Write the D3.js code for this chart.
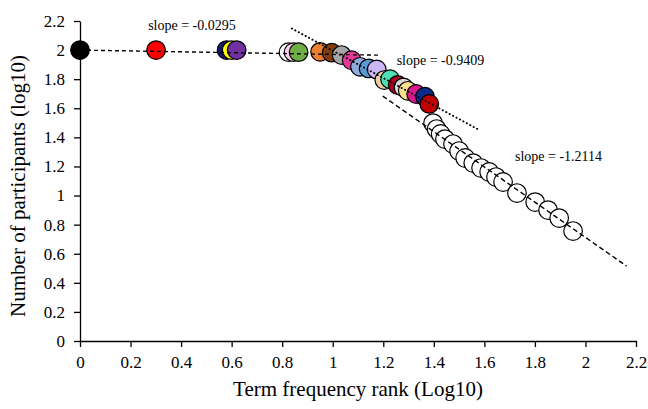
<!DOCTYPE html>
<html>
<head>
<meta charset="utf-8">
<script src="https://cdn.jsdelivr.net/npm/d3@7"></script>
<style>
  body { margin: 0; background: #fff; }
  text { font-family: "Liberation Serif", "Times New Roman", serif; fill: #000; }
</style>
</head>
<body>
<div id="grafico"></div>
<script>
// valores (log10 rango, log10 participantes)
const rangoLog = [
    0, 0.301, 0.58, 0.60, 0.62, 0.825, 0.845, 0.865, 0.95, 0.996,
    1.035, 1.075, 1.108, 1.142, 1.174, 1.204, 1.227, 1.257, 1.28, 1.297,
    1.33, 1.365, 1.382,
    1.397, 1.411, 1.427, 1.444, 1.476, 1.500, 1.524, 1.556, 1.587, 1.619,
    1.646, 1.674, 1.729, 1.801, 1.852, 1.896, 1.951
];
const participantesLog = [
    2.0, 2.0, 2.0, 2.0, 2.0, 1.986, 1.986, 1.986, 1.988, 1.982,
    1.966, 1.93, 1.885, 1.874, 1.867, 1.794, 1.80, 1.76, 1.744, 1.72,
    1.698, 1.68, 1.63,
    1.498, 1.457, 1.423, 1.388, 1.354, 1.306, 1.258, 1.223, 1.189, 1.162,
    1.127, 1.093, 1.017, 0.955, 0.900, 0.845, 0.756
];
const colores = [
    "#000000", "#ff0000", "#13196e", "#ffff00", "#7030a0", "#ffffff", "#ffccf2", "#70ad47", "#ed7d31", "#843c0c",
    "#a5a5a5", "#e8379a", "#8faadc", "#5b9bd5", "#cdb8f5", "#e9cfa5", "#4fe0b5", "#a50021", "#d9d9d9", "#ffe08a",
    "#d9188c", "#0a2a8c", "#c00000",
    "#ffffff", "#ffffff", "#ffffff", "#ffffff", "#ffffff", "#ffffff", "#ffffff", "#ffffff", "#ffffff", "#ffffff",
    "#ffffff", "#ffffff", "#ffffff", "#ffffff", "#ffffff", "#ffffff", "#ffffff"
];

// rectas de ajuste
const pendientes = [-0.0295, -0.9409, -1.2114];
const intercepciones = [2.0, 2.937, 3.135];
const desde = [0, 0.838, 1.198];
const hasta = [1.19, 1.575, 2.163];
const etiquetasPendiente = ["slope = -0.0295", "slope = -0.9409", "slope = -1.2114"];

const ticksX = [0, 0.2, 0.4, 0.6, 0.8, 1, 1.2, 1.4, 1.6, 1.8, 2, 2.2];
const ticksY = [0, 0.2, 0.4, 0.6, 0.8, 1, 1.2, 1.4, 1.6, 1.8, 2, 2.2];

const svgWidth = 648, svgHeight = 409;
const margin = { top: 21, right: 12, bottom: 68, left: 80 };
const width = svgWidth - margin.left - margin.right;
const height = svgHeight - margin.top - margin.bottom;

const svg = d3.select("#grafico")
    .append("svg")
    .attr("width", svgWidth)
    .attr("height", svgHeight)
    .append("g")
    .attr("transform", `translate(${margin.left}, ${margin.top})`);

const x = d3.scaleLinear().domain([0, 2.2]).range([0, width]);
const y = d3.scaleLinear().domain([0, 2.2]).range([height, 0]);

// Ejes
const ejeX = svg.append("g")
    .attr("transform", `translate(0, ${height})`)
    .call(d3.axisBottom(x).tickValues(ticksX).tickFormat(d3.format("~g")).tickSize(6).tickSizeOuter(0).tickPadding(9));
const ejeY = svg.append("g")
    .call(d3.axisLeft(y).tickValues(ticksY).tickFormat(d3.format("~g")).tickSize(6).tickSizeOuter(0).tickPadding(9));

[ejeX, ejeY].forEach(eje => {
    eje.selectAll("path, line").attr("stroke", "#000").attr("stroke-width", 1.3);
    eje.selectAll("text").style("font-size", "17px").attr("font-family", null);
});

// Puntos
const puntos = rangoLog.map((r, i) => ({ r, p: participantesLog[i], c: colores[i] }));
svg.selectAll("circle.punto")
    .data(puntos)
    .enter()
    .append("circle")
    .attr("class", "punto")
    .attr("cx", d => x(d.r))
    .attr("cy", d => y(d.p))
    .attr("r", 9.3)
    .attr("fill", d => d.c)
    .attr("stroke", "#000")
    .attr("stroke-width", 1.2);

// Rectas de tendencia
const estilos = [["4,3", 1.4, "butt"], ["0.3,3.6", 1.9, "round"], ["5,3", 1.4, "butt"]];
pendientes.forEach((m, i) => {
    svg.append("line")
        .attr("x1", x(desde[i]))
        .attr("y1", y(intercepciones[i] + m * desde[i]))
        .attr("x2", x(hasta[i]))
        .attr("y2", y(intercepciones[i] + m * hasta[i]))
        .attr("stroke", "#000")
        .attr("stroke-width", estilos[i][1])
        .attr("stroke-linecap", estilos[i][2])
        .attr("stroke-dasharray", estilos[i][0]);
});

// Etiquetas de pendiente
const posEtiquetas = [[0.443, 2.137, "middle"], [1.253, 1.897, "start"], [1.721, 1.237, "start"]];
etiquetasPendiente.forEach((t, i) => {
    svg.append("text")
        .attr("x", x(posEtiquetas[i][0]))
        .attr("y", y(posEtiquetas[i][1]))
        .attr("text-anchor", posEtiquetas[i][2])
        .style("font-size", "14px")
        .text(t);
});

// Titulos de ejes
svg.append("text")
    .attr("x", width / 2)
    .attr("y", height + 55)
    .attr("text-anchor", "middle")
    .style("font-size", "21px")
    .text("Term frequency rank (Log10)");

svg.append("text")
    .attr("transform", `translate(${25 - margin.left}, ${186 - margin.top}) rotate(-90)`)
    .attr("text-anchor", "middle")
    .style("font-size", "21px")
    .text("Number of participants (log10)");
</script>
</body>
</html>
